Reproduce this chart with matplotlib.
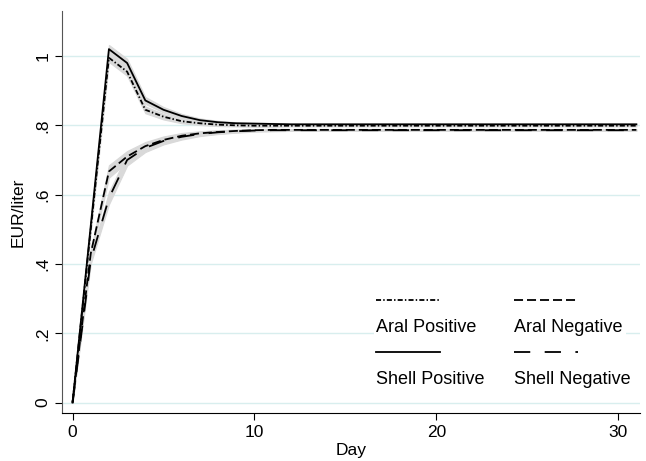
import matplotlib
matplotlib.use("Agg")
import matplotlib.pyplot as plt
from matplotlib.lines import Line2D
from matplotlib.patches import Rectangle

plt.rcParams['font.family'] = ['Liberation Sans', 'DejaVu Sans']

days = list(range(32))

shell_pos = [0, 0.51, 1.02, 0.98, 0.872, 0.845, 0.827, 0.815, 0.809, 0.806, 0.805, 0.804,
             0.803, 0.803, 0.803, 0.803, 0.803, 0.803, 0.803, 0.803, 0.803, 0.803,
             0.803, 0.803, 0.803, 0.803, 0.803, 0.803, 0.803, 0.803, 0.803, 0.803]
aral_pos = [0, 0.50, 0.995, 0.955, 0.845, 0.825, 0.812, 0.806, 0.802, 0.800, 0.799, 0.799,
            0.799, 0.799, 0.799, 0.799, 0.799, 0.799, 0.799, 0.799, 0.799, 0.799,
            0.799, 0.799, 0.799, 0.799, 0.799, 0.799, 0.799, 0.799, 0.799, 0.799]
aral_neg = [0, 0.43, 0.667, 0.71, 0.74, 0.758, 0.77, 0.777, 0.781, 0.784, 0.786, 0.787,
            0.787, 0.787, 0.787, 0.787, 0.787, 0.787, 0.787, 0.787, 0.787, 0.787,
            0.787, 0.787, 0.787, 0.787, 0.787, 0.787, 0.787, 0.787, 0.787, 0.787]
shell_neg = [0, 0.41, 0.59, 0.70, 0.735, 0.755, 0.767, 0.775, 0.780, 0.783, 0.785, 0.786,
             0.786, 0.786, 0.786, 0.786, 0.786, 0.786, 0.786, 0.786, 0.786, 0.786,
             0.786, 0.786, 0.786, 0.786, 0.786, 0.786, 0.786, 0.786, 0.786, 0.786]

# half width of the grey confidence band, by day
pos_ci = [0, 0.008, 0.012, 0.012, 0.01, 0.008, 0.006, 0.005, 0.004, 0.003, 0.003, 0.003,
          0.002, 0.002, 0.002, 0.002, 0.002, 0.002, 0.002, 0.002, 0.002, 0.002,
          0.002, 0.002, 0.002, 0.002, 0.002, 0.002, 0.002, 0.002, 0.002, 0.002]
neg_ci = [0, 0.01, 0.018, 0.016, 0.012, 0.01, 0.008, 0.006, 0.005, 0.004, 0.003, 0.003,
          0.002, 0.002, 0.002, 0.002, 0.002, 0.002, 0.002, 0.002, 0.002, 0.002,
          0.002, 0.002, 0.002, 0.002, 0.002, 0.002, 0.002, 0.002, 0.002, 0.002]

series = [
    ("Aral Positive", aral_pos, pos_ci, (0, (2.8, 1.2, 0.8, 1.2))),
    ("Aral Negative", aral_neg, neg_ci, (0, (5, 2.2))),
    ("Shell Positive", shell_pos, pos_ci, '-'),
    ("Shell Negative", shell_neg, neg_ci, (0, (9, 8))),
]

fig = plt.figure(figsize=(6.46, 4.61), dpi=100)
ax = fig.add_axes([62 / 646, 1 - 413 / 461, 578 / 646, 402 / 461])

for y in [0, 0.2, 0.4, 0.6, 0.8, 1.0]:
    ax.axhline(y, color='#d8eeee', lw=1, zorder=0)

for name, vals, ci, ls in series:
    lo = [v - c for v, c in zip(vals, ci)]
    hi = [v + c for v, c in zip(vals, ci)]
    ax.fill_between(days, lo, hi, color='#d9d9d9', lw=0.8, edgecolor='#d9d9d9', zorder=1)
for name, vals, ci, ls in series:
    ax.plot(days, vals, color='black', lw=1.3, linestyle=ls, zorder=2)

ax.set_xlim(-0.58, 31.2)
ax.set_ylim(-0.03, 1.13)
ax.set_xticks([0, 10, 20, 30])
ax.set_yticks([0, 0.2, 0.4, 0.6, 0.8, 1.0])
ax.set_yticklabels(['0', '.2', '.4', '.6', '.8', '1'], rotation=90, va='center')
ax.tick_params(labelsize=12.5, length=5, width=0.8, direction='out')
for side in ['top', 'right']:
    ax.spines[side].set_visible(False)
ax.spines['left'].set_color('#555555')
ax.set_xlabel('Day', fontsize=12.5, labelpad=2)
ax.set_ylabel('EUR/liter', fontsize=12.5, labelpad=7)

# legend drawn by hand: key above label, two columns
ax.add_patch(Rectangle((0.54, 0.03), 0.435, 0.29, transform=ax.transAxes,
                       facecolor='white', edgecolor='none', zorder=3))
col_x = [376, 514]
row_y = [300, 352]
for i, (name, vals, ci, ls) in enumerate(series):
    c, r = i % 2, i // 2
    x0 = (col_x[c] - 62) / 578
    x1 = (col_x[c] + 64 - 62) / 578
    yl = (413 - row_y[r]) / 402
    yt = (413 - row_y[r] - 27) / 402
    ax.add_line(Line2D([x0, x1], [yl, yl], transform=ax.transAxes, color='black',
                       lw=1.3, linestyle=ls, zorder=4))
    ax.text(x0, yt, name, transform=ax.transAxes, fontsize=13, va='center', ha='left', zorder=4)

fig.savefig('out.png', dpi=100)
